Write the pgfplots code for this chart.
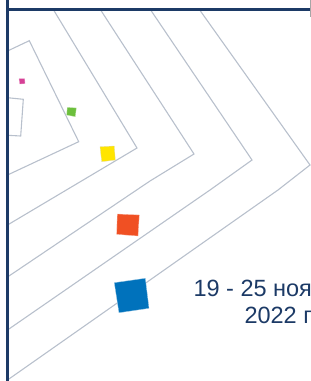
\documentclass[border=0pt]{standalone}
\usepackage{pgfplots}
\pgfplotsset{compat=1.18}
\usepackage{fontspec}
\setmainfont{Liberation Sans}
\definecolor{navy}{RGB}{28,58,102}
\definecolor{gridg}{RGB}{184,192,204}
\definecolor{cpink}{RGB}{214,64,150}
\definecolor{cgreen}{RGB}{108,191,60}
\definecolor{cyellow}{RGB}{255,229,0}
\definecolor{corange}{RGB}{240,80,35}
\definecolor{cblue}{RGB}{0,114,188}
\begin{document}
\begin{tikzpicture}
\useasboundingbox (0,0) rectangle (311bp,381bp);
\clip (0,0) rectangle (311bp,381bp);
\begin{axis}[
  at={(0,0)}, anchor=south west,
  scale only axis, width=311bp, height=381bp,
  xmin=0, xmax=311, ymin=0, ymax=381, y dir=reverse,
  hide axis, clip=true,
]
% grey chevrons
\addplot[gridg, line width=1.1bp] coordinates {(7.5,97.7) (23.3,99.3) (20.7,136) (7.5,135.3)};
\addplot[gridg, line width=1.1bp] coordinates {(7.5,51) (29.3,40.7) (78.7,141.7) (7.5,175)};
\addplot[gridg, line width=1.1bp] coordinates {(53,9) (137,148) (7.5,225)};
\addplot[gridg, line width=1.1bp] coordinates {(100,9) (194,154) (150,181) (7.5,277)};
\addplot[gridg, line width=1.1bp] coordinates {(150,9) (252,160) (210,190) (7.5,330)};
\addplot[gridg, line width=1.1bp] coordinates {(199,9) (310,165) (278,190) (150,280) (7.5,380)};
% squares
\addplot[fill=cpink, draw=cpink!40, line width=0.3bp] coordinates {(19,78.7) (24.7,78.7) (25,83.7) (19.7,84) (19,78.7)};
\addplot[fill=cgreen, draw=cgreen!40, line width=0.3bp] coordinates {(67.3,107.3) (76.3,108) (75.3,116.7) (66.7,115) (67.3,107.3)};
\addplot[fill=cyellow, draw=cyellow!40!gray!40, line width=0.3bp] coordinates {(100,146.7) (114.3,146) (115.3,160) (101.7,161.7) (100,146.7)};
\addplot[fill=corange, draw=corange!40, line width=0.3bp] coordinates {(117.3,214) (139.3,215) (138,236) (116.7,234.3) (117.3,214)};
\addplot[fill=cblue, draw=cblue!40, line width=0.3bp] coordinates {(114.3,282.7) (145.3,278.3) (149,308.3) (119,312.7) (114.3,282.7)};
% frame
\addplot[navy, line width=3bp] coordinates {(7.5,9.5) (311,9.5)};
\addplot[navy, line width=3bp] coordinates {(7.5,0) (7.5,381)};
\addplot[gray!70, line width=0.8bp] coordinates {(310.5,0) (310.5,17)};
% text
\node[anchor=base west, text=navy, font=\fontsize{23.5bp}{28bp}\selectfont, inner sep=0pt] at (axis cs:193.3,296.7) {19 - 25 ноября};
\node[anchor=base west, text=navy, font=\fontsize{23.5bp}{28bp}\selectfont, inner sep=0pt] at (axis cs:244.3,323.3) {2022 года};
\end{axis}
\end{tikzpicture}
\end{document}
